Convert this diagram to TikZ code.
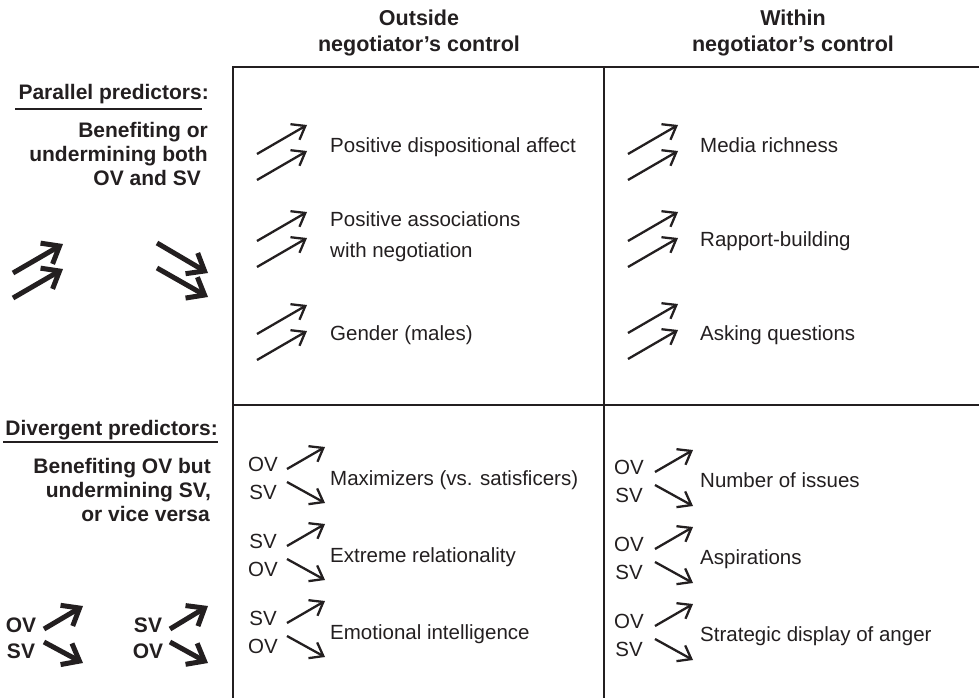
\documentclass[tikz,border=0pt]{standalone}
\usepackage{fontspec}
\setmainfont{Liberation Sans}
\newfontfamily\hdfont{Liberation Sans}
\usetikzlibrary{arrows.meta}
\definecolor{ink}{HTML}{231F20}
\tikzset{
  body/.style={font=\fontsize{20.5}{24}\selectfont, text=ink, inner sep=0pt},
  bodyb/.style={font=\fontsize{21}{25}\selectfont\bfseries, text=ink, inner sep=0pt},
  hd/.style={font=\hdfont\fontsize{21.5}{25}\selectfont\bfseries, text=ink, inner sep=0pt},
  gridline/.style={draw=ink, line width=2pt},
  uline/.style={draw=ink, line width=1.4pt},
  tarr/.style={draw=ink, line width=2.3pt, -{Straight Barb[length=12pt,width=18pt]}},
  karr/.style={draw=ink, line width=5pt, -{Straight Barb[length=15pt,width=24pt]}},
  pairup/.pic={\draw[tarr] (0,0) -- (50,-29); \draw[tarr] (0,26) -- (50,-3);},
  divL/.pic={\draw[tarr] (0,0) -- (38,-22); \draw[tarr] (0,13) -- (38,34);},
}
\begin{document}
\begin{tikzpicture}[x=1pt,y=-1pt]
\useasboundingbox (0,0) rectangle (979,698);

% headers
\node[hd, anchor=base] (h1a) at (419,26) {Outside};
\node[hd, anchor=base] (h1b) at (419,52) {negotiator’s control};
\node[hd, anchor=base] (h2a) at (793,26) {Within};
\node[hd, anchor=base] (h2b) at (793,52) {negotiator’s control};

% grid
\coordinate (gtl) at (233,67);
\coordinate (gtr) at (979,67);
\coordinate (gtm) at (604,67);
\coordinate (gbl) at (233,698);
\coordinate (gbm) at (604,698);
\coordinate (gml) at (233,405);
\coordinate (gmr) at (979,405);
\draw[gridline] (gtr) -- (gtl) -- (gbl);
\draw[gridline] (gtm) -- (gbm);
\draw[gridline] (gml) -- (gmr);

% left labels: parallel
\node[bodyb, anchor=base east] (par) at (209,100) {Parallel predictors:};
\coordinate (pul) at (15,109);
\coordinate (pur) at (202,109);
\draw[uline] (pul) -- (pur);
\node[bodyb, anchor=base east] (p1) at (208,137) {Benefiting or};
\node[bodyb, anchor=base east] (p2) at (208,161) {undermining both};
\node[bodyb, anchor=base east] (p3) at (201,185) {OV and SV};

% big parallel arrows
\draw[karr] (13,273) -- (63,244);
\draw[karr] (13,298) -- (63,269);
\draw[karr] (157,243) -- (208,273);
\draw[karr] (157,268) -- (208,297);

% left labels: divergent
\node[bodyb, anchor=base east] (div) at (218,435) {Divergent predictors:};
\coordinate (dul) at (3,442);
\coordinate (dur) at (218,442);
\draw[uline] (dul) -- (dur);
\node[bodyb, anchor=base east] (d1) at (211,473) {Benefiting OV but};
\node[bodyb, anchor=base east] (d2) at (211,497) {undermining SV,};
\node[bodyb, anchor=base east] (d3) at (210,521) {or vice versa};

% big divergent arrows
\node[bodyb, anchor=base] (bl1) at (21,632) {OV};
\node[bodyb, anchor=base] (bl2) at (21,658) {SV};
\node[bodyb, anchor=base] (bl3) at (148,632) {SV};
\node[bodyb, anchor=base] (bl4) at (148,658) {OV};
\draw[karr] (44,629) -- (83,606);
\draw[karr] (44,642) -- (83,663);
\draw[karr] (170,629) -- (208,606);
\draw[karr] (170,642) -- (208,663);

% top-left cell
\pic at (257,154) {pairup};
\node[body, anchor=base west] (t11) at (330,152) {Positive dispositional affect};
\pic at (257,241) {pairup};
\node[body, anchor=base west] (t12a) at (330,226) {Positive associations};
\node[body, anchor=base west] (t12b) at (330,257) {with negotiation};
\pic at (257,334) {pairup};
\node[body, anchor=base west] (t13) at (330,340) {Gender (males)};

% top-right cell
\pic at (628,154) {pairup};
\node[body, anchor=base west] (t21) at (700,152) {Media richness};
\pic at (628,241) {pairup};
\node[body, anchor=base west] (t22) at (700,246) {Rapport-building};
\pic at (628,333) {pairup};
\node[body, anchor=base west] (t23) at (700,340) {Asking questions};

% bottom-left cell
\pic at (287,469) {divL};
\node[body, anchor=base] (l1a) at (263,471) {OV};
\node[body, anchor=base] (l1b) at (263,499) {SV};
\node[body, anchor=base west] (t31) at (330,485) {Maximizers (vs. satisficers)};
\pic at (287,546) {divL};
\node[body, anchor=base] (l2a) at (263,548) {SV};
\node[body, anchor=base] (l2b) at (263,576) {OV};
\node[body, anchor=base west] (t32) at (330,562) {Extreme relationality};
\pic at (287,623) {divL};
\node[body, anchor=base] (l3a) at (263,625) {SV};
\node[body, anchor=base] (l3b) at (263,653) {OV};
\node[body, anchor=base west] (t33) at (330,639) {Emotional intelligence};

% bottom-right cell
\pic at (655,472) {divL};
\node[body, anchor=base] (r1a) at (629,474) {OV};
\node[body, anchor=base] (r1b) at (629,502) {SV};
\node[body, anchor=base west] (t41) at (700,487) {Number of issues};
\pic at (655,549) {divL};
\node[body, anchor=base] (r2a) at (629,551) {OV};
\node[body, anchor=base] (r2b) at (629,579) {SV};
\node[body, anchor=base west] (t42) at (700,564) {Aspirations};
\pic at (655,626) {divL};
\node[body, anchor=base] (r3a) at (629,628) {OV};
\node[body, anchor=base] (r3b) at (629,656) {SV};
\node[body, anchor=base west] (t43) at (700,641) {Strategic display of anger};
\end{tikzpicture}
\end{document}
